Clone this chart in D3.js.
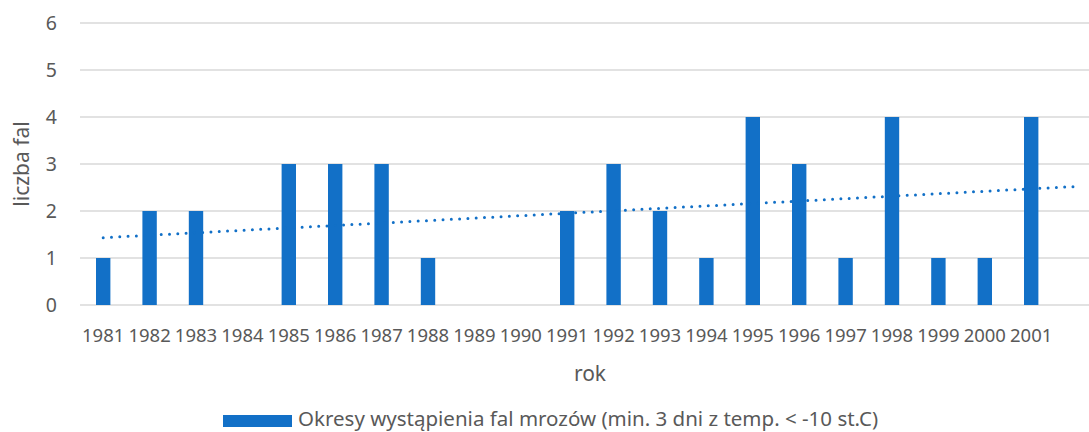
<!DOCTYPE html>
<html>
<head>
<meta charset="utf-8">
<script src="https://cdn.jsdelivr.net/npm/d3@7"></script>
<style>
  body { margin: 0; background: #fff; }
  text { font-family: "Noto Sans", "Open Sans", sans-serif; fill: #595959; }
</style>
</head>
<body>
<div id="chart"></div>
<script>
// one empty category after 2001 (the chart is cut at the right edge)
const years = ["1981","1982","1983","1984","1985","1986","1987","1988","1989","1990",
  "1991","1992","1993","1994","1995","1996","1997","1998","1999","2000","2001",""];
const waves = [1,2,2,0,3,3,3,1,0,0,2,3,2,1,4,3,1,4,1,1,4,null];
const yTicks = [0,1,2,3,4,5,6];
const legendLabel = "Okresy wystąpienia fal mrozów (min. 3 dni z temp. < -10 st.C)";

const width = 1089;
const height = 432;
const margin = { top: 23, right: 0, bottom: 127, left: 80 };
const barColor = "#1270c7";

const svg = d3.select("#chart")
  .append("svg")
  .attr("width", width)
  .attr("height", height);

const x = d3.scaleBand()
  .domain(years)
  .range([margin.left, margin.left + 22 * 46.4])
  .padding(0);

const y = d3.scaleLinear()
  .domain([0, 6])
  .range([height - margin.bottom, margin.top]);

// gridlines
svg.append("g")
  .selectAll("line")
  .data(yTicks)
  .join("line")
  .attr("x1", margin.left)
  .attr("x2", width)
  .attr("y1", d => y(d))
  .attr("y2", d => y(d))
  .attr("stroke", "#d9d9d9")
  .attr("stroke-width", 1.5);

// y tick labels
svg.append("g")
  .selectAll("text")
  .data(yTicks)
  .join("text")
  .attr("x", 57)
  .attr("y", d => y(d))
  .attr("dy", "0.35em")
  .attr("text-anchor", "end")
  .style("font-size", "19.5px")
  .text(d => d);

// bars
const barW = x.bandwidth() * 0.31;
svg.append("g")
  .selectAll("rect")
  .data(waves.map((v, i) => ({ year: years[i], v })).filter(d => d.v !== null))
  .join("rect")
  .attr("x", d => x(d.year) + x.bandwidth() / 2 - barW / 2)
  .attr("y", d => y(d.v))
  .attr("width", barW)
  .attr("height", d => y(0) - y(d.v))
  .attr("fill", barColor);

// x labels
svg.append("g")
  .selectAll("text")
  .data(years)
  .join("text")
  .attr("x", d => x(d) + x.bandwidth() / 2)
  .attr("y", 336)
  .attr("dy", "0.35em")
  .attr("text-anchor", "middle")
  .style("font-size", "18.5px")
  .text(d => d);

// linear trend (least squares over the known points), drawn across all categories
const pts = waves.map((v, i) => [i + 1, v]).filter(p => p[1] !== null);
const mx = d3.mean(pts, p => p[0]);
const my = d3.mean(pts, p => p[1]);
const slope = d3.sum(pts, p => (p[0] - mx) * (p[1] - my)) / d3.sum(pts, p => (p[0] - mx) ** 2);
const icpt = my - slope * mx;
const trend = years.map((yr, i) => ({ year: yr, v: icpt + slope * (i + 1) }));

svg.append("path")
  .datum(trend)
  .attr("fill", "none")
  .attr("stroke", barColor)
  .attr("stroke-width", 3)
  .attr("stroke-linecap", "round")
  .attr("stroke-dasharray", "0 8.3")
  .attr("d", d3.line()
    .x(d => x(d.year) + x.bandwidth() / 2)
    .y(d => y(d.v)));

// axis titles
svg.append("text")
  .attr("transform", `translate(22,${(y(0) + y(6)) / 2}) rotate(-90)`)
  .attr("text-anchor", "middle")
  .attr("dy", "0.35em")
  .style("font-size", "21px")
  .text("liczba fal");

svg.append("text")
  .attr("x", 590)
  .attr("y", 381)
  .attr("text-anchor", "middle")
  .style("font-size", "21px")
  .text("rok");

// legend
const legend = svg.append("g");
legend.append("rect")
  .attr("x", 223)
  .attr("y", 415)
  .attr("width", 69)
  .attr("height", 12)
  .attr("fill", barColor);
legend.append("text")
  .attr("x", 298)
  .attr("y", 426)
  .style("font-size", "20.5px")
  .text(legendLabel);
</script>
</body>
</html>
